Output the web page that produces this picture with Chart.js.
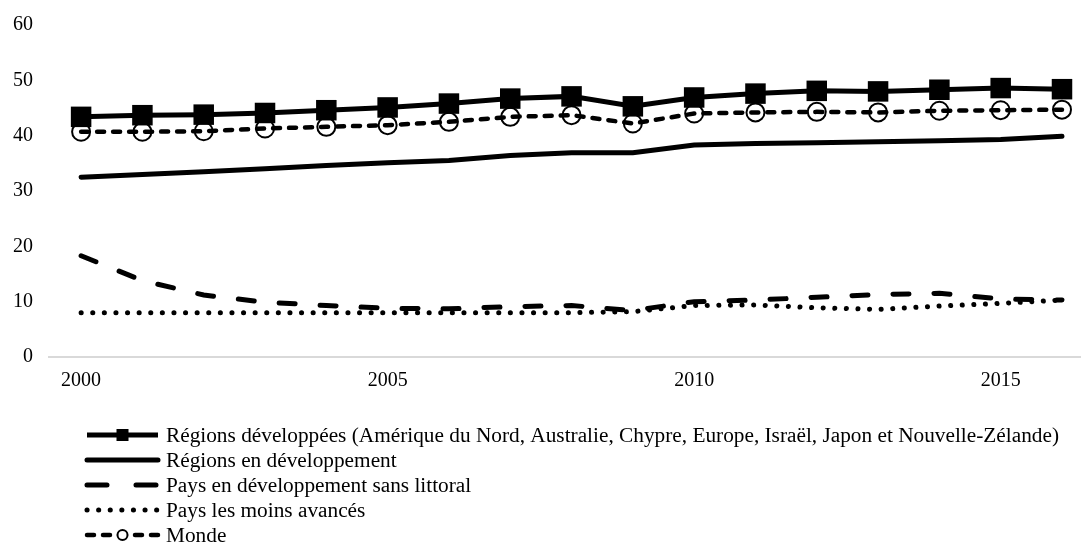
<!DOCTYPE html>
<html>
<head>
<meta charset="utf-8">
<script src="https://cdn.jsdelivr.net/npm/chart.js@4"></script>
<style>
  html, body { margin: 0; padding: 0; background: #fff; overflow: hidden; }
  #wrap { width: 1081px; height: 543px; }
  canvas { display: block; }
</style>
</head>
<body>
<div id="wrap"><canvas id="chart" width="1081" height="543"></canvas></div>
<script>
const years = [2000, 2001, 2002, 2003, 2004, 2005, 2006, 2007, 2008, 2009, 2010, 2011, 2012, 2013, 2014, 2015, 2016];
const yearTicks = [2000, 2005, 2010, 2015];
const yTicks = [0, 10, 20, 30, 40, 50, 60];

const developed = [43.4, 43.7, 43.8, 44.1, 44.6, 45.1, 45.8, 46.7, 47.1, 45.3, 46.9, 47.6, 48.1, 48.0, 48.3, 48.6, 48.4];
const developing = [32.5, 33.0, 33.5, 34.0, 34.6, 35.1, 35.5, 36.4, 36.9, 36.9, 38.3, 38.6, 38.7, 38.9, 39.1, 39.3, 39.9];
const landlocked = [18.3, 13.8, 11.2, 9.9, 9.3, 8.8, 8.7, 9.1, 9.3, 8.4, 10.0, 10.3, 10.8, 11.3, 11.5, 10.5, 10.3];
const leastDeveloped = [8.0, 8.0, 8.0, 8.0, 8.0, 8.0, 8.0, 8.0, 8.0, 8.2, 9.3, 9.4, 8.9, 8.6, 9.2, 9.7, 10.3];
const world = [40.7, 40.7, 40.8, 41.3, 41.6, 41.9, 42.5, 43.4, 43.7, 42.2, 44.0, 44.2, 44.3, 44.2, 44.5, 44.6, 44.7];

const seriesNames = [
  'Régions développées (Amérique du Nord, Australie, Chypre, Europe, Israël, Japon et Nouvelle-Zélande)',
  'Régions en développement',
  'Pays en développement sans littoral',
  'Pays les moins avancés',
  'Monde'
];

const FONT = "'Liberation Serif', 'Times New Roman', serif";

function pts(values) {
  return years.map((y, i) => ({ x: y, y: values[i] }));
}

// legend drawn under the plot, one series per row
const legendRows = {
  id: 'legendRows',
  afterDraw(chart) {
    const ctx = chart.ctx;
    const x0 = 87, x1 = 158, textX = 166;
    chart.data.datasets.forEach((ds, i) => {
      const y = 435 + i * 25;
      ctx.save();
      ctx.strokeStyle = '#000';
      ctx.lineWidth = ds.borderWidth;
      ctx.lineCap = ds.borderCapStyle || 'butt';
      ctx.setLineDash(ds.legendDash || ds.borderDash || []);
      ctx.beginPath();
      ctx.moveTo(x0, y);
      ctx.lineTo(x1, y);
      ctx.stroke();
      ctx.setLineDash([]);
      const cx = (x0 + x1) / 2;
      if (ds.pointStyle === 'rect' && ds.pointRadius > 0) {
        ctx.fillStyle = '#000';
        ctx.fillRect(cx - 6, y - 6, 12, 12);
      } else if (ds.pointStyle === 'circle' && ds.pointRadius > 0) {
        ctx.fillStyle = '#fff';
        ctx.lineWidth = 2;
        ctx.beginPath();
        ctx.arc(cx, y, 5, 0, Math.PI * 2);
        ctx.fill();
        ctx.stroke();
      }
      ctx.fillStyle = '#000';
      ctx.font = '21.3px ' + FONT;
      ctx.textBaseline = 'middle';
      ctx.textAlign = 'left';
      ctx.fillText(ds.label, textX, y + 1);
      ctx.restore();
    });
  }
};

new Chart(document.getElementById('chart'), {
  type: 'line',
  data: {
    datasets: [
      {
        label: seriesNames[0],
        data: pts(developed),
        borderColor: '#000',
        backgroundColor: '#000',
        borderWidth: 5,
        pointStyle: 'rect',
        pointRadius: 14.5,
        pointBorderWidth: 0,
        tension: 0
      },
      {
        label: seriesNames[1],
        data: pts(developing),
        borderColor: '#000',
        borderWidth: 5,
        borderCapStyle: 'round',
        pointRadius: 0,
        tension: 0
      },
      {
        label: seriesNames[2],
        data: pts(landlocked),
        borderColor: '#000',
        borderWidth: 5,
        borderCapStyle: 'round',
        borderDash: [16, 25],
        legendDash: [20, 29],
        pointRadius: 0,
        tension: 0
      },
      {
        label: seriesNames[3],
        data: pts(leastDeveloped),
        borderColor: '#000',
        borderWidth: 5,
        borderCapStyle: 'round',
        borderDash: [0.1, 11.5],
        pointRadius: 0,
        tension: 0
      },
      {
        label: seriesNames[4],
        data: pts(world),
        borderColor: '#000',
        backgroundColor: 'rgba(255,255,255,0)',
        borderWidth: 4.5,
        borderCapStyle: 'round',
        borderDash: [7, 9],
        pointStyle: 'circle',
        pointRadius: 9,
        pointBorderWidth: 2,
        tension: 0
      }
    ]
  },
  options: {
    responsive: false,
    animation: false,
    layout: { autoPadding: false, padding: { top: 25, right: 0, bottom: 146, left: 0 } },
    plugins: {
      legend: { display: false },
      tooltip: { enabled: false }
    },
    scales: {
      x: {
        type: 'linear',
        min: 1999.46,
        max: 2016.31,
        afterBuildTicks: s => { s.ticks = yearTicks.map(v => ({ value: v })); },
        afterFit: s => { s.height = 40; s.paddingLeft = 0; s.paddingRight = 0; },
        grid: { display: false, drawTicks: false },
        border: { display: false },
        ticks: {
          autoSkip: false,
          maxRotation: 0,
          padding: 12,
          color: '#000',
          font: { family: FONT, size: 20 },
          callback: v => String(v)
        }
      },
      y: {
        min: 0,
        max: 60,
        afterBuildTicks: s => { s.ticks = yTicks.map(v => ({ value: v })); },
        afterFit: s => { s.width = 48; s.paddingTop = 0; s.paddingBottom = 0; },
        grid: {
          drawTicks: false,
          lineWidth: 2,
          color: c => (c.tick && c.tick.value === 0) ? '#d9d9d9' : 'rgba(0,0,0,0)'
        },
        border: { display: false },
        ticks: {
          padding: 15,
          color: '#000',
          font: { family: FONT, size: 20 }
        }
      }
    }
  },
  plugins: [legendRows]
});
</script>
</body>
</html>
